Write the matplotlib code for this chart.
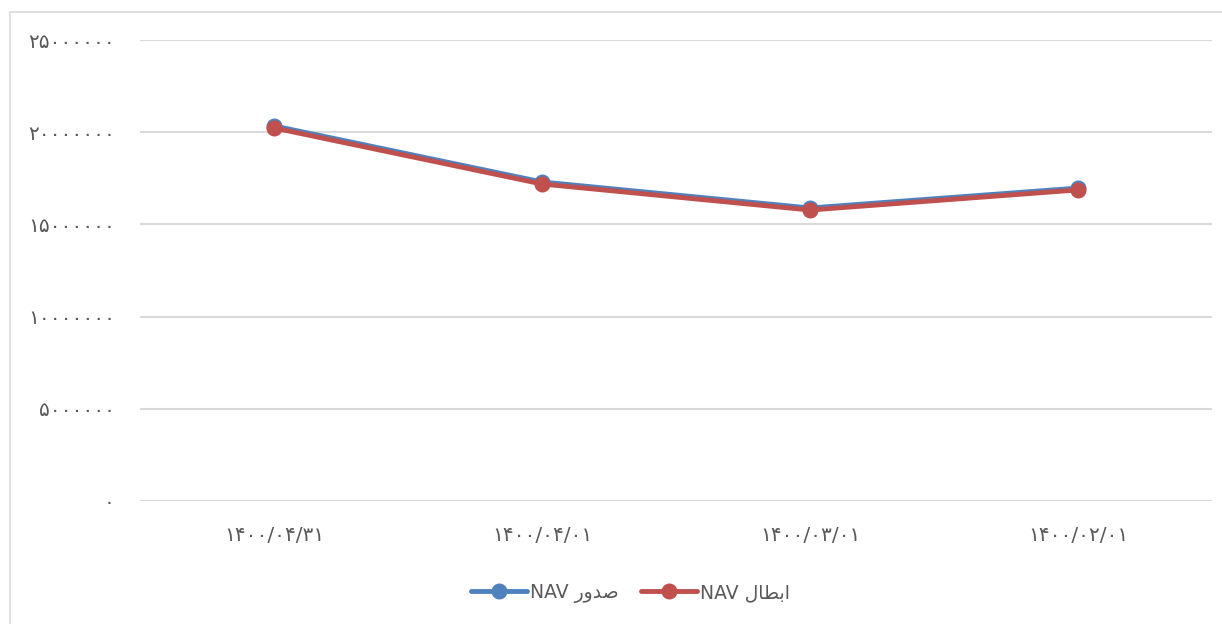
import matplotlib.pyplot as plt
from matplotlib.patches import Rectangle

plt.rcParams['font.family'] = ['DejaVu Sans']

# data
dates = ['۱۴۰۰/۰۴/۳۱', '۱۴۰۰/۰۴/۰۱', '۱۴۰۰/۰۳/۰۱', '۱۴۰۰/۰۲/۰۱']
nav_issue = [20340000, 17300000, 15890000, 16970000]   # NAV صدور
nav_redeem = [20230000, 17190000, 15780000, 16870000]  # NAV ابطال
yticks = [0, 5000000, 10000000, 15000000, 20000000, 25000000]
ytick_labels = ['۰', '۵۰۰۰۰۰۰', '۱۰۰۰۰۰۰۰', '۱۵۰۰۰۰۰۰', '۲۰۰۰۰۰۰۰', '۲۵۰۰۰۰۰۰']

# matplotlib does no arabic shaping: use presentation forms in visual order
label_issue = 'NAV ' + '\uFEAD\uFEED\uFEAA\uFEBB'
label_redeem = 'NAV ' + '\uFEDD\uFE8E\uFEC4\uFE91\uFE8D'

W, H = 1222, 624
fig = plt.figure(figsize=(W / 100, H / 100), dpi=100)
ax = fig.add_axes([140 / W, (H - 501) / H, (1212 - 140) / W, (501 - 40) / H])

# outer chart border (left + top visible)
fig.patches.append(Rectangle((10 / W, -0.5), 2, (H - 12) / H + 0.5,
                             transform=fig.transFigure, fill=False,
                             edgecolor='#d9d9d9', linewidth=1.2))

x = range(len(dates))
ax.plot(x, nav_issue, color='#4F81BD', lw=3.5, marker='o', ms=10.5, label=label_issue,
        solid_capstyle='round', zorder=3)
ax.plot(x, nav_redeem, color='#C0504D', lw=3.5, marker='o', ms=10.5, label=label_redeem,
        solid_capstyle='round', zorder=4)

ax.set_xlim(-0.5, 3.5)
ax.set_ylim(0, 25000000)
ax.set_yticks(yticks)
ax.set_yticklabels(ytick_labels)
ax.set_xticks(list(x))
ax.set_xticklabels(dates)
ax.tick_params(length=0, labelsize=14.5, labelcolor='#595959')
ax.tick_params(axis='y', pad=18)
ax.tick_params(axis='x', pad=18)
ax.grid(axis='y', color='#d9d9d9', lw=1.5)
ax.set_axisbelow(True)
for s in ax.spines.values():
    s.set_visible(False)

fig.legend(loc='center', bbox_to_anchor=(0.516, (H - 593) / H), ncol=2, frameon=False,
           fontsize=13.5, labelcolor='#595959', handlelength=3.0, columnspacing=1.2,
           handletextpad=0.15)

fig.savefig('out.png', dpi=100)
